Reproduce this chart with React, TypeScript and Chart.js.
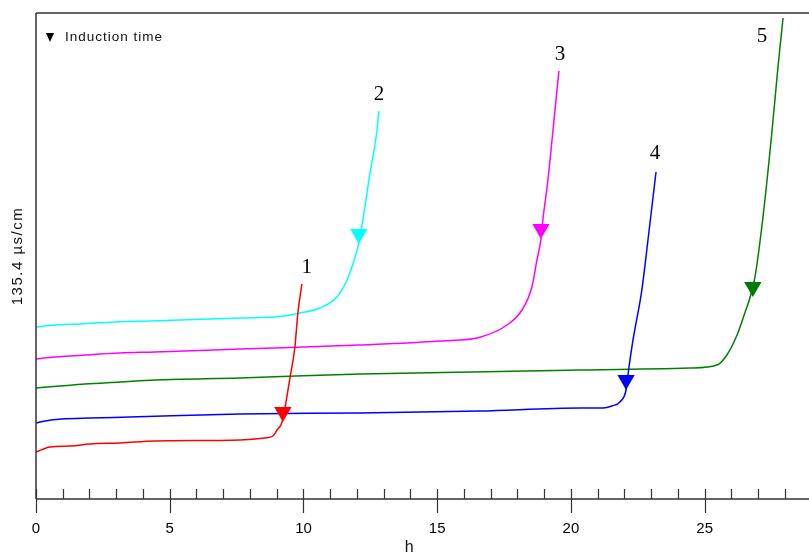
import { useEffect, useRef } from "react";
import { Chart, registerables } from "chart.js";

Chart.register(...registerables);

// ---- data (hours vs conductivity, arbitrary units: full scale = 135.4 µs/cm) ----
const curveNames = ["1", "2", "3", "4", "5"];

const hours1 = [0, 0.52, 1.27, 2.02, 3.14, 4.45, 7.63, 8.56, 8.86, 9.01, 9.2, 9.5, 9.68, 9.79, 9.94];
const cond1 = [9.67, 10.7, 10.91, 11.32, 11.52, 11.93, 12.14, 12.55, 12.96, 14.2, 15.84, 25.1, 31.28, 38.27, 44.24];

const hours2 = [0, 0.71, 1.64, 2.95, 4.26, 7.63, 9.12, 9.87, 10.62, 11.25, 11.63, 11.93, 12.07, 12.49, 12.75, 12.82];
const cond2 = [35.39, 35.8, 36.01, 36.42, 36.63, 37.24, 37.55, 38.27, 39.3, 41.56, 45.06, 49.79, 52.67, 67.08, 75.93, 79.84];

const hours3 = [0, 0.71, 1.83, 3.14, 4.45, 7.63, 12.11, 15.1, 16.6, 17.61, 18.17, 18.54, 18.73, 18.88, 18.95, 19.14, 19.33, 19.55];
const cond3 = [28.81, 29.22, 29.63, 30.04, 30.25, 30.86, 31.69, 32.51, 33.3, 35.8, 38.89, 43.62, 49.18, 53.5, 57.41, 65.64, 75.93, 88.07];

const hours4 = [0, 0.34, 0.97, 2.02, 3.51, 7.63, 12.11, 16.6, 20.34, 21.2, 21.53, 21.83, 22.06, 22.17, 22.32, 22.65, 22.88, 23.18];
const cond4 = [15.64, 16.05, 16.46, 16.67, 16.87, 17.49, 17.7, 18.11, 18.72, 18.72, 19.14, 19.96, 22.43, 27.16, 32.72, 43.0, 53.29, 67.28];

const hours5 = [0, 0.9, 1.83, 3.14, 4.45, 7.63, 12.11, 20.34, 24.45, 25.46, 25.83, 26.21, 26.5, 26.69, 26.88, 27.18, 27.51, 27.74, 27.93];
const cond5 = [22.84, 23.25, 23.66, 24.07, 24.49, 24.9, 25.72, 26.54, 26.95, 27.57, 29.63, 33.74, 38.27, 41.36, 45.68, 58.02, 75.31, 88.89, 98.97];

const inductionHours = [9.23, 12.07, 18.88, 22.06, 26.8];
const inductionLevel = [17.9, 54.53, 55.56, 24.49, 43.62];

const xTickStep = 5;
const xMin = 0;
const xMax = 28.9;
const legendLabel = "Induction time";
const yTitle = "135.4 µs/cm";
const xTitle = "h";

// ---- styles ----
const curveColors = ["#ff0000", "#00ffff", "#ff00ff", "#0000ff", "#008000"];
const markerColors = ["#ff0000", "#00ffff", "#ff00ff", "#0000ff", "#007a00"];
const labelOffsets: [number, number][] = [
  [5, -17],
  [0, -16],
  [1, -16],
  [-1, -19],
  [-21, 18],
];

const allHours = [hours1, hours2, hours3, hours4, hours5];
const allCond = [cond1, cond2, cond3, cond4, cond5];

const decorPlugin = {
  id: "decor",
  afterDraw(chart: any) {
    const { ctx, chartArea } = chart;
    const { left, right, top, bottom } = chartArea;
    const xs = chart.scales.x;
    ctx.save();
    // frame lines
    ctx.strokeStyle = "#333";
    ctx.lineWidth = 1.5;
    ctx.beginPath();
    ctx.moveTo(left, top);
    ctx.lineTo(right, top);
    ctx.moveTo(left, top);
    ctx.lineTo(left, bottom);
    ctx.moveTo(left, bottom);
    ctx.lineTo(right, bottom);
    ctx.stroke();
    // ticks
    ctx.lineWidth = 1.2;
    ctx.beginPath();
    for (let i = Math.ceil(xMin); i <= Math.floor(xMax); i++) {
      const px = Math.round(xs.getPixelForValue(i)) + 0.5;
      ctx.moveTo(px, bottom - 10);
      ctx.lineTo(px, i % xTickStep === 0 ? bottom + 14 : bottom);
    }
    ctx.stroke();

    // legend
    const lx = left + 14;
    const ly = top + 24;
    ctx.fillStyle = "#000";
    ctx.beginPath();
    ctx.moveTo(lx - 4, ly - 4);
    ctx.lineTo(lx + 4, ly - 4);
    ctx.lineTo(lx, ly + 5);
    ctx.closePath();
    ctx.fill();
    ctx.fillStyle = "#111";
    ctx.font = "13.5px 'Liberation Sans', Arial, sans-serif";
    (ctx as any).letterSpacing = "1px";
    ctx.textAlign = "left";
    ctx.textBaseline = "middle";
    ctx.fillText(legendLabel, left + 29, ly);

    // y title
    ctx.save();
    ctx.font = "15px 'Liberation Sans', Arial, sans-serif";
    (ctx as any).letterSpacing = "1.5px";
    ctx.translate(left - 18, (top + bottom) / 2);
    ctx.rotate(-Math.PI / 2);
    ctx.textAlign = "center";
    ctx.textBaseline = "middle";
    ctx.fillText(yTitle, 0, 0);
    ctx.restore();

    // x title
    (ctx as any).letterSpacing = "0px";
    ctx.font = "16px 'Liberation Sans', Arial, sans-serif";
    ctx.textAlign = "center";
    ctx.textBaseline = "alphabetic";
    ctx.fillText(xTitle, xs.getPixelForValue(13.95), bottom + 53);

    // curve labels
    ctx.font = "21px 'Liberation Serif', 'Times New Roman', serif";
    ctx.textBaseline = "middle";
    ctx.fillStyle = "#000";
    for (let k = 0; k < curveNames.length; k++) {
      const h = allHours[k];
      const c = allCond[k];
      const px = xs.getPixelForValue(h[h.length - 1]);
      const py = chart.scales.y.getPixelForValue(c[c.length - 1]);
      ctx.fillText(curveNames[k], px + labelOffsets[k][0], py + labelOffsets[k][1]);
    }
    ctx.restore();
  },
};

export default function App() {
  const ref = useRef<HTMLCanvasElement>(null);
  useEffect(() => {
    const curveSets = allHours.map((h, k) => ({
      type: "line" as const,
      label: curveNames[k],
      data: h.map((x, i) => ({ x, y: allCond[k][i] })),
      borderColor: curveColors[k],
      borderWidth: 1.5,
      pointRadius: 0,
      cubicInterpolationMode: "monotone" as const,
      fill: false,
    }));
    const markerSet = {
      type: "scatter" as const,
      label: legendLabel,
      data: inductionHours.map((x, i) => ({ x, y: inductionLevel[i] })),
      pointStyle: "triangle",
      rotation: 180,
      pointRadius: 10,
      pointBackgroundColor: markerColors,
      pointBorderColor: markerColors,
      pointBorderWidth: 0,
      showLine: false,
    };
    const chart = new Chart(ref.current!, {
      type: "line",
      data: { datasets: [markerSet as any, ...curveSets] },
      options: {
        animation: false,
        responsive: false,
        events: [],
        layout: { autoPadding: false, padding: { left: 36, top: 13, right: 0, bottom: 0 } },
        plugins: { legend: { display: false }, tooltip: { enabled: false } },
        scales: {
          x: {
            type: "linear",
            min: xMin,
            max: xMax,
            grid: { display: false, drawTicks: false },
            border: { display: false },
            ticks: {
              stepSize: xTickStep,
              includeBounds: false,
              padding: 21,
              color: "#000",
              font: { family: "'Liberation Sans', Arial, sans-serif", size: 15 },
              maxRotation: 0,
            },
            afterFit(scale: any) {
              scale.height = 54;
              scale.paddingRight = 0;
              scale.paddingLeft = 0;
            },
          },
          y: {
            type: "linear",
            display: false,
            min: 0,
            max: 100,
          },
        },
      },
      plugins: [decorPlugin],
    });
    return () => chart.destroy();
  }, []);
  return (
    <div style={{ position: "fixed", left: 0, top: 0, width: 809, height: 553, background: "#fff" }}>
      <canvas ref={ref} width={809} height={553} style={{ display: "block", width: 809, height: 553 }} />
    </div>
  );
}
